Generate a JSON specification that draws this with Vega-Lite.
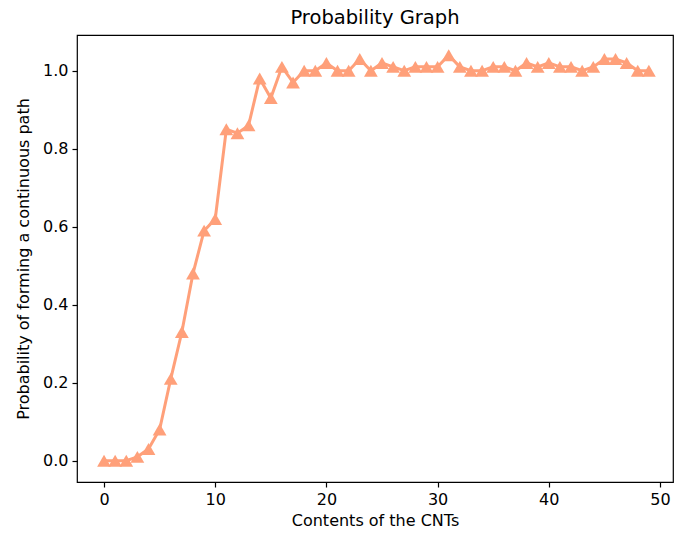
{
  "$schema": "https://vega.github.io/schema/vega-lite/v6.json",
  "width": 596,
  "height": 447,
  "autosize": {"type": "none"},
  "padding": {"left": 77, "top": 35, "right": 1, "bottom": 54},
  "background": "white",
  "title": {
    "text": "Probability Graph",
    "font": "DejaVu Sans",
    "fontSize": 19.5,
    "fontWeight": "normal",
    "color": "#000000",
    "offset": 7
  },
  "config": {
    "view": {"stroke": "#000000", "strokeWidth": 1.2},
    "axis": {
      "domain": false,
      "grid": false,
      "ticks": true,
      "tickColor": "#000000",
      "tickSize": 5,
      "tickWidth": 1.2,
      "labelFont": "DejaVu Sans",
      "labelFontSize": 16,
      "labelColor": "#000000",
      "labelPadding": 4,
      "titleFont": "DejaVu Sans",
      "titleFontSize": 16,
      "titleFontWeight": "normal",
      "titleColor": "#000000"
    }
  },
  "data": {
    "values": [
      {"content": 0, "probability": 0.0},
      {"content": 1, "probability": 0.0},
      {"content": 2, "probability": 0.0},
      {"content": 3, "probability": 0.01},
      {"content": 4, "probability": 0.03},
      {"content": 5, "probability": 0.08},
      {"content": 6, "probability": 0.21},
      {"content": 7, "probability": 0.33},
      {"content": 8, "probability": 0.48},
      {"content": 9, "probability": 0.59},
      {"content": 10, "probability": 0.62},
      {"content": 11, "probability": 0.85},
      {"content": 12, "probability": 0.84},
      {"content": 13, "probability": 0.86},
      {"content": 14, "probability": 0.98},
      {"content": 15, "probability": 0.93},
      {"content": 16, "probability": 1.01},
      {"content": 17, "probability": 0.97},
      {"content": 18, "probability": 1.0},
      {"content": 19, "probability": 1.0},
      {"content": 20, "probability": 1.02},
      {"content": 21, "probability": 1.0},
      {"content": 22, "probability": 1.0},
      {"content": 23, "probability": 1.03},
      {"content": 24, "probability": 1.0},
      {"content": 25, "probability": 1.02},
      {"content": 26, "probability": 1.01},
      {"content": 27, "probability": 1.0},
      {"content": 28, "probability": 1.01},
      {"content": 29, "probability": 1.01},
      {"content": 30, "probability": 1.01},
      {"content": 31, "probability": 1.04},
      {"content": 32, "probability": 1.01},
      {"content": 33, "probability": 1.0},
      {"content": 34, "probability": 1.0},
      {"content": 35, "probability": 1.01},
      {"content": 36, "probability": 1.01},
      {"content": 37, "probability": 1.0},
      {"content": 38, "probability": 1.02},
      {"content": 39, "probability": 1.01},
      {"content": 40, "probability": 1.02},
      {"content": 41, "probability": 1.01},
      {"content": 42, "probability": 1.01},
      {"content": 43, "probability": 1.0},
      {"content": 44, "probability": 1.01},
      {"content": 45, "probability": 1.03},
      {"content": 46, "probability": 1.03},
      {"content": 47, "probability": 1.02},
      {"content": 48, "probability": 1.0},
      {"content": 49, "probability": 1.0}
    ]
  },
  "mark": {
    "type": "line",
    "color": "#FFA07A",
    "strokeWidth": 3,
    "point": {"shape": "triangle-up", "size": 190, "filled": true, "color": "#FFA07A", "opacity": 1}
  },
  "encoding": {
    "x": {
      "field": "content",
      "type": "quantitative",
      "scale": {"domain": [-2.43, 51.17], "nice": false, "zero": false},
      "axis": {"values": [0, 10, 20, 30, 40, 50], "title": "Contents of the CNTs", "titlePadding": 5}
    },
    "y": {
      "field": "probability",
      "type": "quantitative",
      "scale": {"domain": [-0.0545, 1.0917], "nice": false, "zero": false},
      "axis": {"values": [0, 0.2, 0.4, 0.6, 0.8, 1.0], "format": ".1f", "title": "Probability of forming a continuous path", "titlePadding": 11}
    }
  }
}
